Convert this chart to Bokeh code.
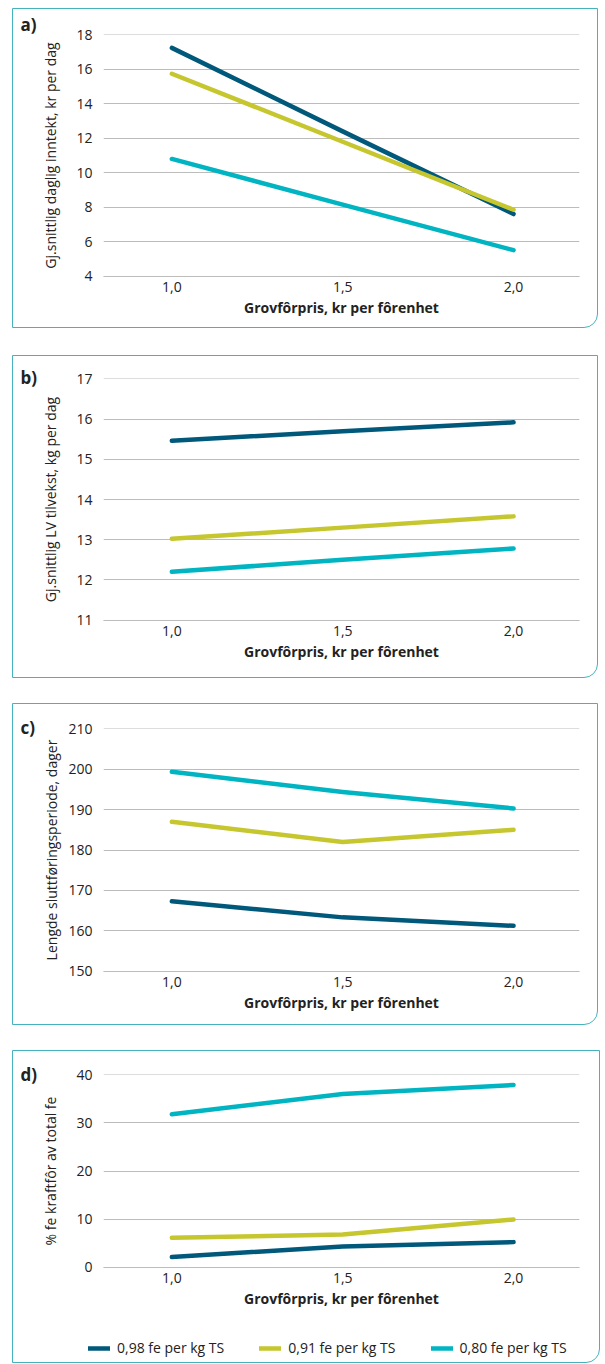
from bokeh.plotting import figure
from bokeh.models import Legend, LegendItem, FixedTicker, Range1d
from bokeh.layouts import column
from bokeh.embed import file_html
from bokeh.resources import INLINE

# ---------------- data ----------------
x_vals = [1.0, 1.5, 2.0]
x_tick_labels = ["1,0", "1,5", "2,0"]
series_names = ["0,98 fe per kg TS", "0,91 fe per kg TS", "0,80 fe per kg TS"]

a_098 = [17.25, 12.4, 7.6]
a_091 = [15.75, 11.8, 7.85]
a_080 = [10.8, 8.15, 5.5]

b_098 = [15.46, 15.7, 15.92]
b_091 = [13.02, 13.3, 13.58]
b_080 = [12.2, 12.5, 12.78]

c_098 = [167.3, 163.3, 161.2]
c_091 = [187.0, 182.0, 185.0]
c_080 = [199.4, 194.4, 190.3]

d_098 = [2.1, 4.3, 5.2]
d_091 = [6.1, 6.8, 9.9]
d_080 = [31.8, 36.0, 37.9]

a_ticks = [4, 6, 8, 10, 12, 14, 16, 18]
b_ticks = [11, 12, 13, 14, 15, 16, 17]
c_ticks = [150, 160, 170, 180, 190, 200, 210]
d_ticks = [0, 10, 20, 30, 40]

x_title = "Grovfôrpris, kr per fôrenhet"

# ---------------- style ----------------
COLORS = ["#00587a", "#c6c62f", "#00b4c2"]
BORDER = "#45b2be"
GRID = "#bcbcbc"
TEXT = "#222222"
FONT = "Open Sans"
X0, X1 = 0.8, 2.193
BOX_STYLE = {"border": "1px solid " + BORDER,
             "border-bottom-right-radius": "14px",
             "background-color": "white",
             "overflow": "hidden"}


def make_panel(tag, ylabel, yticks, series, height, mb_top, mb_bottom,
               tag_standoff, ylab_standoff, margin_top, boxed=True):
    ymin, ymax = yticks[0], yticks[-1]
    pad = (ymax - ymin) * 0.002
    p = figure(width=586, height=height, output_backend="svg",
               toolbar_location=None,
               x_range=Range1d(X0, X1), y_range=Range1d(ymin - pad, ymax + pad),
               min_border_left=90, min_border_right=20,
               min_border_top=mb_top, min_border_bottom=mb_bottom)
    p.border_fill_color = None
    p.background_fill_color = None
    p.outline_line_color = None
    if boxed:
        p.styles = dict(BOX_STYLE)
        p.margin = (margin_top, 0, 0, 12)

    # panel tag as a left-aligned title shifted left of the frame
    p.title.text = tag
    p.title.align = "left"
    p.title.offset = -83
    p.title.standoff = tag_standoff
    p.title.vertical_align = "bottom"
    p.title.text_font = FONT
    p.title.text_font_style = "bold"
    p.title.text_font_size = "17px"
    p.title.text_color = TEXT

    # axes
    p.xaxis.ticker = FixedTicker(ticks=x_vals)
    p.xaxis.major_label_overrides = {v: t for v, t in zip(x_vals, x_tick_labels)}
    p.yaxis.ticker = FixedTicker(ticks=yticks)
    p.xaxis.axis_label = x_title
    p.yaxis.axis_label = ylabel
    for ax in (p.xaxis[0], p.yaxis[0]):
        ax.major_tick_line_color = None
        ax.minor_tick_line_color = None
        ax.major_tick_out = 0
        ax.major_tick_in = 0
        ax.minor_tick_out = 0
        ax.major_label_text_font = FONT
        ax.major_label_text_font_size = "14px"
        ax.major_label_text_color = TEXT
        ax.axis_label_text_font = FONT
        ax.axis_label_text_color = TEXT
    p.yaxis.axis_line_color = None
    p.xaxis.axis_line_color = GRID
    p.xaxis.axis_line_width = 1
    p.xaxis.axis_label_text_font_style = "bold"
    p.xaxis.axis_label_text_font_size = "14px"
    p.xaxis.major_label_standoff = 5
    p.xaxis.axis_label_standoff = 3
    p.yaxis.axis_label_text_font_style = "normal"
    p.yaxis.axis_label_text_font_size = "14px"
    p.yaxis.major_label_standoff = 11
    p.yaxis.axis_label_standoff = ylab_standoff

    p.xgrid.grid_line_color = None
    p.ygrid.ticker = FixedTicker(ticks=yticks)
    p.ygrid.grid_line_color = GRID
    p.ygrid.grid_line_width = 1.2

    for vals, col in zip(series, COLORS):
        p.line(x_vals, vals, line_color=col, line_width=4.5, line_cap="round",
               line_join="round")
    return p


pa = make_panel("a)", "Gj.snittlig daglig inntekt, kr per dag", a_ticks,
                [a_098, a_091, a_080], 320, 25, 53, -2, 13, 8)
pb = make_panel("b)", "Gj.snittlig LV tilvekst, kg per dag", b_ticks,
                [b_098, b_091, b_080], 323, 22, 59, -20, 13, 27)
pc = make_panel("c)", "Lengde sluttføringsperiode, dager", c_ticks,
                [c_098, c_091, c_080], 322, 24, 55, -20, 4, 25)
pd = make_panel("d)", "% fe kraftfôr av total fe", d_ticks,
                [d_098, d_091, d_080], 273, 23, 57, -22, 13, 0, boxed=False)

# legend strip under panel d (its own frame covers the whole strip)
pl = figure(width=586, height=38, output_backend="svg", toolbar_location=None,
            x_axis_type=None, y_axis_type=None,
            x_range=Range1d(X0, X1), y_range=Range1d(1000, 1001),
            min_border=0)
pl.frame_align = False
pl.border_fill_color = None
pl.background_fill_color = None
pl.outline_line_color = None
pl.grid.visible = False
leg_renderers = [pl.line(x_vals, vals, line_color=col, line_width=4.5, line_cap="round")
                 for vals, col in zip([d_098, d_091, d_080], COLORS)]
lg = Legend(items=[LegendItem(label=n, renderers=[r])
                   for n, r in zip(series_names, leg_renderers)],
            orientation="horizontal", location=(75, 5),
            glyph_width=22, glyph_height=16, label_standoff=7, spacing=35,
            padding=0, margin=0, border_line_color=None,
            background_fill_alpha=0, label_text_font=FONT,
            label_text_font_size="14px", label_text_color=TEXT)
pl.add_layout(lg, "center")

box_d = column(pd, pl, spacing=0, styles=dict(BOX_STYLE), margin=(25, 0, 0, 12))

layout = column(pa, pb, pc, box_d, spacing=0)
open("out.html", "w").write(file_html(layout, INLINE))
